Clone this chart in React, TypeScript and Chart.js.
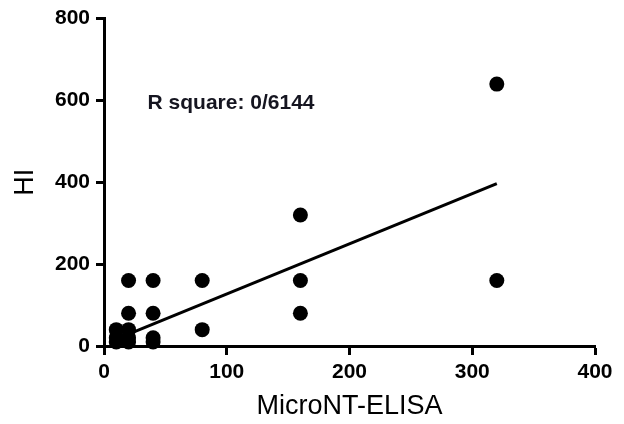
import React, { useEffect, useRef } from "react";
import { Chart, registerables } from "chart.js";

Chart.register(...registerables);

// Data
const microNT: number[] = [10, 10, 10, 20, 20, 20, 20, 20, 40, 40, 40, 40, 80, 80, 160, 160, 160, 320, 320];
const hiValues: number[] = [40, 20, 10, 160, 80, 40, 20, 10, 160, 80, 20, 10, 160, 40, 320, 160, 80, 640, 160];

// Regression line end points
const fitX: number[] = [10, 320];
const fitY: number[] = [17, 397];

const xTickValues: number[] = [0, 100, 200, 300, 400];
const yTickValues: number[] = [0, 200, 400, 600, 800];

const annotationText = "R square: 0/6144";
const annotationAt: number[] = [35.5, 580];

const FONT = "'Liberation Sans', Arial, Helvetica, sans-serif";

export default function App() {
  const ref = useRef<HTMLCanvasElement | null>(null);

  useEffect(() => {
    document.body.style.margin = "0";
    const canvas = ref.current;
    if (!canvas) return;

    const annotate = {
      id: "annotate",
      afterDatasetsDraw(chart: any) {
        const { ctx, scales } = chart;
        const x = scales.x.getPixelForValue(annotationAt[0]);
        const y = scales.y.getPixelForValue(annotationAt[1]);
        ctx.save();
        ctx.font = `bold 21px ${FONT}`;
        ctx.fillStyle = "#151520";
        ctx.textAlign = "left";
        ctx.textBaseline = "alphabetic";
        ctx.fillText(annotationText, x, y);
        ctx.restore();
      },
    };

    const chart = new Chart(canvas, {
      type: "scatter",
      data: {
        datasets: [
          {
            type: "scatter",
            data: microNT.map((x, i) => ({ x, y: hiValues[i] })),
            pointRadius: 7.5,
            pointHoverRadius: 7.5,
            pointBackgroundColor: "#000",
            pointBorderColor: "#000",
            pointBorderWidth: 0,
            clip: false,
            order: 2,
          } as any,
          {
            type: "line",
            data: fitX.map((x, i) => ({ x, y: fitY[i] })),
            borderColor: "#000",
            borderWidth: 3,
            pointRadius: 0,
            fill: false,
            order: 1,
          } as any,
        ],
      },
      options: {
        animation: false,
        responsive: false,
        devicePixelRatio: 1,
        layout: { padding: { left: 0, right: 29, top: 17, bottom: 0 } },
        plugins: {
          legend: { display: false },
          tooltip: { enabled: false },
        },
        scales: {
          x: {
            type: "linear",
            min: 0,
            max: 400,
            afterBuildTicks: (s: any) => {
              s.ticks = xTickValues.map((v) => ({ value: v }));
            },
            afterFit: (s: any) => {
              s.height = 78;
            },
            ticks: {
              color: "#000",
              font: { family: FONT, size: 21, weight: "bold" },
              padding: 5,
              maxRotation: 0,
            },
            border: { display: true, color: "#000", width: 3 },
            grid: {
              display: true,
              drawOnChartArea: false,
              drawTicks: true,
              tickLength: 9,
              tickWidth: 3,
              tickColor: "#000",
            },
            title: {
              display: true,
              text: "MicroNT-ELISA",
              color: "#000",
              font: { family: FONT, size: 27, weight: "normal" },
              padding: { top: 0, bottom: 1 },
            },
          },
          y: {
            type: "linear",
            min: 0,
            max: 800,
            afterBuildTicks: (s: any) => {
              s.ticks = yTickValues.map((v) => ({ value: v }));
            },
            afterFit: (s: any) => {
              s.width = 104;
            },
            ticks: {
              color: "#000",
              font: { family: FONT, size: 21, weight: "bold" },
              padding: 6,
            },
            border: { display: true, color: "#000", width: 3 },
            grid: {
              display: true,
              drawOnChartArea: false,
              drawTicks: true,
              tickLength: 8,
              tickWidth: 3,
              tickColor: "#000",
            },
            title: {
              display: true,
              text: "HI",
              color: "#000",
              font: { family: FONT, size: 27, weight: "normal" },
              padding: { top: 9, bottom: 0 },
            },
          },
        },
      },
      plugins: [annotate],
    });

    return () => chart.destroy();
  }, []);

  return (
    <div style={{ width: 624, height: 424, background: "#fff" }}>
      <canvas ref={ref} width={624} height={424} style={{ display: "block" }} />
    </div>
  );
}
